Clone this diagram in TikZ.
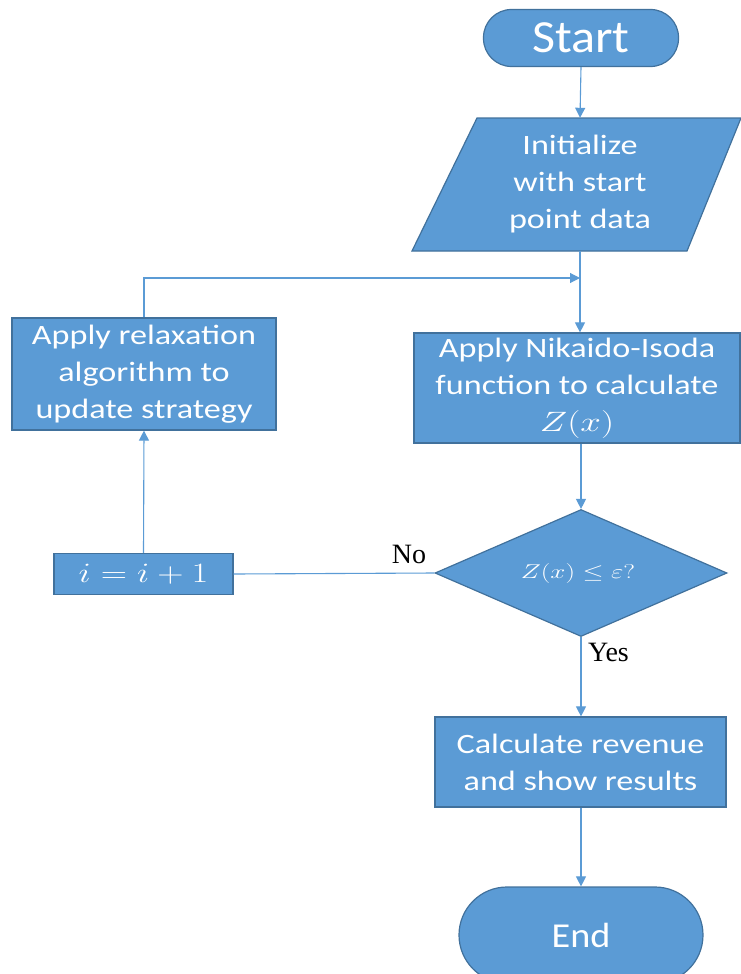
\RequirePackage{fix-cm}
\documentclass[tikz,border=0pt]{standalone}
\usepackage{graphicx}
\usepackage{fontspec}
\setmainfont{Carlito}[FakeStretch=1.22]
\newfontfamily\titlefont{Carlito}[FakeStretch=1.09]
\newfontfamily\tnr{Liberation Serif}
\usetikzlibrary{shapes.geometric,arrows.meta}
\definecolor{fillblue}{HTML}{5B9BD5}
\definecolor{edgeblue}{HTML}{41719C}
\definecolor{lineblue}{HTML}{5B9BD5}
\newcommand{\wmath}[2]{\scalebox{#1}[1]{$#2$}}
\begin{document}
\begin{tikzpicture}[x=1pt,y=-1pt,
  shapebox/.style={draw=edgeblue, fill=fillblue, line width=1.2pt, text=white, align=center,
    font=\fontsize{28}{37}\selectfont, inner sep=0pt},
  plainbox/.style={text=white, align=center, font=\fontsize{28}{37}\selectfont, inner sep=0pt},
  conn/.style={draw=lineblue, line width=1.1pt},
  arr/.style={conn, -{Triangle[length=10pt,width=10pt]}},
  lbl/.style={font=\tnr\fontsize{28}{30}\selectfont, text=black, inner sep=0pt}]
\useasboundingbox (0,0) rectangle (740,974);

% Start
\node[shapebox, minimum width=195pt, minimum height=57pt, rounded corners=28pt,
  font=\titlefont\fontsize{46}{48}\selectfont] (start) at (581,38) {Start};

% Initialize (parallelogram)
\fill[fillblue, draw=edgeblue, line width=1.2pt] (477,118) -- (741,118) -- (687,251) -- (412,251) -- cycle;
\node[plainbox, minimum width=200pt, minimum height=133pt] (init) at (580,184.5)
  {Initialize\\with start\\point data};

% Nikaido
\node[shapebox, minimum width=326pt, minimum height=110pt] (nik) at (577,388)
  {Apply Nikaido-Isoda\\function to calculate\\\wmath{1.32}{Z(x)}};

% Relaxation
\node[shapebox, minimum width=264pt, minimum height=112pt] (relax) at (144,374)
  {Apply relaxation\\algorithm to\\update strategy};

% Decision
\node[shapebox, shape=diamond, minimum width=292pt, minimum height=127pt] (dec) at (581,573) {};
\node[plainbox, font=\fontsize{20}{22}\selectfont] (dectext) at (578,573) {\wmath{1.35}{Z(x) \leq \varepsilon?}};

% i = i + 1
\node[shapebox, minimum width=179pt, minimum height=41pt,
  font=\fontsize{28}{30}\selectfont] (inc) at (143.5,574) {\wmath{1.3}{i = i + 1}};

% Calculate
\node[shapebox, minimum width=291pt, minimum height=90pt] (calc) at (580.5,762)
  {Calculate revenue\\and show results};

% End
\node[shapebox, minimum width=244pt, minimum height=96pt, rounded corners=48pt,
  font=\titlefont\fontsize{35}{38}\selectfont] (end) at (581,935) {End};

\coordinate (join) at (580,278);

% connectors
\draw[arr] (start.south) -- (init.north);
\draw[conn] (init.south) -- (join);
\draw[arr] (join) -- (join |- nik.north);
\draw[arr] (relax.north) |- (join);
\draw[arr] (nik.south -| dec.north) -- (dec.north);
\draw[conn] (dec.west) -- (inc.east);
\draw[arr] (inc.north) -- (relax.south);
\draw[arr] (dec.south) -- (calc.north -| dec.south);
\draw[arr] (calc.south -| end.north) -- (end.north);

% labels
\node[lbl] (no) at (409,554) {No};
\node[lbl] (yes) at (608.5,652) {Yes};
\end{tikzpicture}
\end{document}
